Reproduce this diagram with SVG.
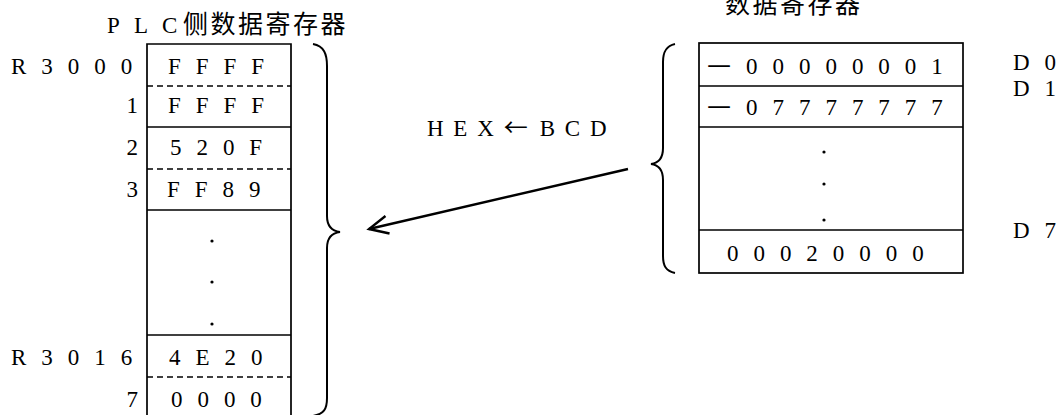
<svg xmlns="http://www.w3.org/2000/svg" width="1059" height="415" viewBox="0 0 1059 415">
<style>
.bg{fill:#fff}
.box{fill:none;stroke:#000;stroke-width:1.7}
.sep{stroke:#000;stroke-width:1.7}
.dash{stroke:#000;stroke-width:1.7;stroke-dasharray:6 4}
.brace{fill:none;stroke:#000;stroke-width:2}
.arrow{fill:none;stroke:#000;stroke-width:2.4}
.t{font-family:"Liberation Serif","Noto Sans CJK SC",serif;font-size:23px;letter-spacing:4.6px;fill:#000}
.n{font-family:"Liberation Serif",serif;font-size:23px;fill:#000;text-anchor:end}
.cjk{font-family:"Noto Sans CJK SC",sans-serif;font-size:25px;letter-spacing:2.5px}
.em{font-family:"Noto Sans CJK SC",sans-serif;font-size:27px}
.dot{fill:#000}
</style>
<defs>
<marker id="open" markerUnits="userSpaceOnUse" markerWidth="30" markerHeight="30" viewBox="-25 -15 30 30" refX="0" refY="0" orient="auto" overflow="visible">
<path d="M-19,-9 L0,0 L-19,9" fill="none" stroke="#000" stroke-width="2.4"/>
</marker>
</defs>
<rect class="bg" x="0" y="0" width="1059" height="415"/>

<g id="plc-title">
<text class="t" x="107" y="33">P L C<tspan class="cjk" dx="1">侧数据寄存器</tspan></text>
</g>

<g id="plc-register">
<path class="box" d="M147,420 L147,44 L291,44 L291,420"/>
<line class="dash" x1="147" y1="86" x2="291" y2="86"/>
<line class="sep" x1="147" y1="127" x2="291" y2="127"/>
<line class="dash" x1="147" y1="169" x2="291" y2="169"/>
<line class="sep" x1="147" y1="210" x2="291" y2="210"/>
<line class="sep" x1="147" y1="335" x2="291" y2="335"/>
<line class="dash" x1="147" y1="377" x2="291" y2="377"/>
<text class="t" x="168" y="74">F F F F</text>
<text class="t" x="168" y="113">F F F F</text>
<text class="t" x="170" y="155">5 2 0 F</text>
<text class="t" x="167" y="197">F F 8 9</text>
<circle class="dot" cx="212" cy="241" r="1.6"/>
<circle class="dot" cx="212" cy="282" r="1.6"/>
<circle class="dot" cx="212" cy="324" r="1.6"/>
<text class="t" x="169" y="365">4 E 2 0</text>
<text class="t" x="171" y="407">0 0 0 0</text>
</g>

<g id="plc-labels">
<text class="t" x="11" y="74">R 3 0 0 0</text>
<text class="n" x="138" y="113">1</text>
<text class="n" x="138" y="155">2</text>
<text class="n" x="138" y="197">3</text>
<text class="t" x="11" y="365">R 3 0 1 6</text>
<text class="n" x="138" y="407">7</text>
</g>

<g id="plc-brace">
<path class="brace" d="M313,44 C324,46 327,54 327,66 L327,216 C327,226 332,231 340,232 C332,233 327,238 327,248 L327,398 C327,409 324,414 313,416"/>
</g>

<g id="data-title">
<text class="cjk" x="725" y="13" fill="#000">数据寄存器</text>
</g>

<g id="data-register">
<rect class="box" x="699" y="43" width="264" height="230"/>
<line class="sep" x1="699" y1="86" x2="963" y2="86"/>
<line class="sep" x1="699" y1="127" x2="963" y2="127"/>
<line class="sep" x1="699" y1="230" x2="963" y2="230"/>
<text class="t" x="707" y="74"><tspan class="em">—</tspan> 0 0 0 0 0 0 0 1</text>
<text class="t" x="707" y="115"><tspan class="em">—</tspan> 0 7 7 7 7 7 7 7</text>
<circle class="dot" cx="824" cy="152" r="1.6"/>
<circle class="dot" cx="824" cy="184" r="1.6"/>
<circle class="dot" cx="824" cy="220" r="1.6"/>
<text class="t" x="727" y="261">0 0 0 2 0 0 0 0</text>
</g>

<g id="data-labels">
<text class="t" x="1013" y="70">D 0</text>
<text class="t" x="1013" y="96">D 1</text>
<text class="t" x="1013" y="238">D 7</text>
</g>

<g id="data-brace">
<path class="brace" d="M675,44 C666,46 663,52 663,62 L663,148 C663,158 659,163 651,164 C659,165 663,170 663,180 L663,256 C663,266 666,271 675,273"/>
</g>

<g id="connectors">
<line class="arrow" x1="628" y1="169" x2="369" y2="229" marker-end="url(#open)"/>
<text class="t" x="427" y="136" style="letter-spacing:2px">H E X<tspan dx="8" font-family="Noto Sans CJK SC, sans-serif" font-size="24">←</tspan><tspan dx="10">B C D</tspan></text>
</g>
</svg>
